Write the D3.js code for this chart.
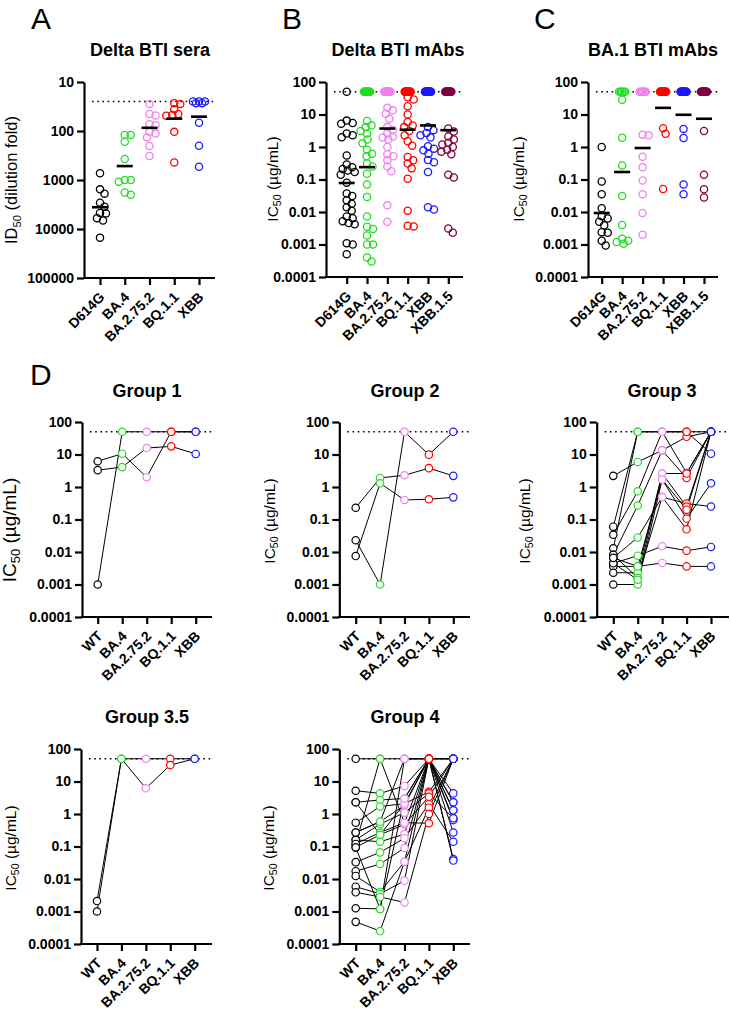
<!DOCTYPE html>
<html><head><meta charset="utf-8">
<script src="https://cdn.jsdelivr.net/npm/d3@7"></script>
<style>body{margin:0;background:#fff;} text{font-family:"Liberation Sans",Arial,Helvetica,sans-serif;}</style>
</head><body><script>
// ---------------- DATA ----------------
const seraVariants = ["D614G","BA.4","BA.2.75.2","BQ.1.1","XBB"];
const mabVariants = ["D614G","BA.4","BA.2.75.2","BQ.1.1","XBB","XBB.1.5"];
const groupVariants = ["WT","BA.4","BA.2.75.2","BQ.1.1","XBB"];
const variantColors = ["#000000","#22dd22","#ee82ee","#ff0000","#1a1aff","#800040"];

const seraTicks = [10,100,1000,10000,100000];
const seraTickLabels = ["10","100","1000","10000","100000"];
const icTicks = [100,10,1,0.1,0.01,0.001,0.0001];
const icTickLabels = ["100","10","1","0.1","0.01","0.001","0.0001"];
const seraLimit = 25;
const mabLimit = 50;

// Panel A: Delta BTI sera, ID50
const seraD614G = [730, 1550, 1900, 2900, 3500, 4700, 4800, 6000, 6700, 15000];
const seraBA4 = [120, 120, 166, 374, 1000, 1000, 1080, 1800, 2000];
const seraBA2752 = [28, 45, 48, 73, 76, 104, 113, 135, 203, 324];
const seraBQ11 = [27, 28, 36, 45, 47, 49, 104, 437];
const seraXBB = [25, 25, 25, 27, 27, 68, 200, 537];
const seraMeans = [3600, 520, 86, 56, 51];

// Panel B: Delta BTI mAbs, IC50
const deltaD614G = [50, 6.5, 5.5, 5.2, 2.6, 2.3, 2.0, 0.55, 0.29, 0.24, 0.21, 0.19, 0.17, 0.14, 0.08, 0.037, 0.031, 0.023, 0.018, 0.014, 0.011, 0.0073, 0.0064, 0.0052, 0.0046, 0.0042, 0.0011, 0.001, 0.0005];
const deltaBA4 = [50,50,50,50,50,50,50,50,50,50, 6.3, 4.6, 4.1, 3.1, 2.6, 1.7, 1.3, 0.82, 0.62, 0.52, 0.31, 0.25, 0.15, 0.07, 0.029, 0.0073, 0.0035, 0.003, 0.0019, 0.001, 0.001, 0.0004, 0.0003];
const deltaBA2752 = [50,50,50,50,50,50,50,50,50,50,50,50, 16, 13.4, 10.6, 7.4, 4.1, 3.3, 2.6, 2.1, 1.95, 1.7, 1.0, 0.6, 0.52, 0.39, 0.25, 0.18, 0.016, 0.005];
const deltaBQ11 = [50,50,50,50,50,50,50,50,50,50,50,50,50,50, 34, 29, 18, 10, 5.9, 4.6, 4.1, 3.1, 2.3, 1.5, 1.1, 0.49, 0.39, 0.31, 0.22, 0.105, 0.011, 0.0038, 0.0036];
const deltaXBB = [50,50,50,50,50,50,50,50,50,50,50,50,50,50,50,50, 4.1, 3.3, 2.7, 2.3, 1.95, 1.05, 0.89, 0.79, 0.62, 0.4, 0.34, 0.17, 0.014, 0.012];
const deltaXBB15 = [50,50,50,50,50,50,50,50,50,50,50,50,50,50,50,50, 3.7, 3.0, 2.1, 1.7, 1.35, 1.2, 1.0, 0.83, 0.71, 0.6, 0.14, 0.115, 0.0031, 0.0023];
const deltaMeans = [0.078, 0.24, 3.7, 3.4, 4.6, 3.3];

// Panel C: BA.1 BTI mAbs, IC50
const ba1D614G = [1.0, 0.087, 0.035, 0.013, 0.0074, 0.0063, 0.005, 0.0039, 0.0024, 0.0023, 0.0013, 0.00093];
const ba1BA4 = [50,50,50,50,50, 28.5, 1.92, 0.27, 0.031, 0.004, 0.0015, 0.0013, 0.0012, 0.00105];
const ba1BA2752 = [50,50,50,50,50,50, 2.4, 2.3, 0.5, 0.24, 0.093, 0.035, 0.0093, 0.002];
const ba1BQ11 = [50,50,50,50,50,50,50,50,50,50,50,50,50,50, 3.8, 2.55, 0.051];
const ba1XBB = [50,50,50,50,50,50,50,50,50,50,50,50,50,50, 3.6, 1.9, 0.07, 0.035];
const ba1XBB15 = [50,50,50,50,50,50,50,50,50,50,50,50,50, 3.1, 0.14, 0.05, 0.028];
const ba1Means = [0.0093, 0.17, 0.93, 16, 9.8, 7.4];

// Panel D: per-mAb IC50 across WT, BA.4, BA.2.75.2, BQ.1.1, XBB
const group1 = [
  [0.001, 50, 50, 50, 50],
  [6.2, 10.6, 2.0, 50, 50],
  [3.3, 4.1, 15.8, 17.8, 10.4]
];
const group2 = [
  [0.023, 0.001, 50, 9.9, 50],
  [0.23, 1.9, 2.3, 3.8, 2.2],
  [0.0075, 1.3, 0.4, 0.42, 0.48]
];
const group3 = [
  [2.2, 5.9, 13.4, 35, 50],
  [0.06, 50, 50, 50, 50],
  [0.034, 0.74, 50, 50, 10.6],
  [0.013, 50, 50, 2.7, 50],
  [0.0082, 0.27, 13.4, 1.9, 50],
  [0.0066, 0.028, 0.49, 0.31, 0.25],
  [0.0045, 0.0077, 0.015, 0.011, 0.0143],
  [0.0036, 0.0036, 0.0046, 0.0036, 0.0036],
  [0.0023, 0.0023, 2.6, 2.6, 50],
  [0.001, 0.001, 1.7, 0.107, 1.3],
  [0.0082, 0.0016, 0.49, 0.05, 50],
  [0.0045, 0.0014, 2.6, 0.25, 50],
  [0.0066, 0.0036, 1.7, 0.2, 50]
];
const group35 = [
  [0.0021, 50, 50, 50, 50],
  [0.001, 50, 6.2, 32, 50]
];
const group4 = [
  [50, 50, 50, 50, 50],
  [5.2, 4.3, 7.3, 50, 4.3],
  [2.3, 2.7, 3.0, 50, 2.3],
  [0.54, 1.7, 2.1, 4.8, 50],
  [0.27, 0.58, 1.85, 50, 1.3],
  [0.16, 0.49, 1.1, 4.3, 0.74],
  [0.12, 0.27, 0.54, 50, 0.65],
  [0.094, 0.23, 0.48, 3.4, 50],
  [0.16, 0.14, 0.24, 50, 0.27],
  [0.033, 0.066, 0.18, 2.0, 0.14],
  [0.0174, 0.029, 0.09, 50, 0.041],
  [0.0124, 0.004, 0.034, 1.56, 50],
  [0.0058, 0.0035, 0.0089, 50, 0.037],
  [0.0039, 0.0028, 0.0019, 1.0, 50],
  [0.00126, 0.0012, 50, 50, 50],
  [0.00048, 0.00025, 0.034, 50, 50],
  [0.12, 50, 0.54, 0.52, 50],
  [0.27, 0.58, 50, 50, 2.3],
  [2.3, 0.23, 2.1, 50, 1.3],
  [0.094, 0.0012, 3.0, 50, 0.74]
];

// ---------------- DRAWING ----------------
const FONT = '"Liberation Sans",Arial,Helvetica,sans-serif';
const svg = d3.select("body").append("svg").attr("width",730).attr("height",1014).style("display","block");

function makePanel(cfg) {
  const g = svg.append("g");
  const y = d3.scaleLog().domain(cfg.domain).range([cfg.top, cfg.bot]);
  const x = d3.scalePoint().domain(cfg.cats).range([cfg.c0, cfg.c1]);
  // dotted limit line
  g.append("line").attr("x1", cfg.x0 + 8).attr("x2", cfg.x1)
    .attr("y1", y(cfg.limit)).attr("y2", y(cfg.limit))
    .attr("stroke","#000").attr("stroke-width",1.6).attr("stroke-dasharray","1.6,3.6");
  // y axis
  const ya = g.append("g").attr("transform",`translate(${cfg.x0},0)`)
    .call(d3.axisLeft(y).tickValues(cfg.ticks).tickFormat((d,i)=>cfg.tickLabels[i]).tickSize(7).tickSizeOuter(0).tickPadding(3));
  ya.select(".domain").attr("stroke","#000").attr("stroke-width",2.2);
  ya.selectAll(".tick line").attr("stroke","#000").attr("stroke-width",2.2);
  ya.selectAll(".tick text").attr("font-size",14).attr("font-weight","bold").attr("font-family",FONT).attr("fill","#000");
  // x axis
  const xa = g.append("g").attr("transform",`translate(0,${cfg.bot})`)
    .call(d3.axisBottom(x).tickSize(7).tickSizeOuter(0));
  xa.select(".domain").remove();
  xa.append("line").attr("x1", cfg.x0 - 1).attr("x2", cfg.x1).attr("y1",0).attr("y2",0).attr("stroke","#000").attr("stroke-width",2.2);
  xa.selectAll(".tick line").attr("stroke","#000").attr("stroke-width",2.2);
  xa.selectAll(".tick text").attr("font-size",14).attr("font-weight","bold").attr("font-family",FONT).attr("fill","#000")
    .attr("x",0).attr("y",0).attr("dy",0).attr("text-anchor","end")
    .attr("transform","translate(5,20) rotate(-45)");
  // title
  g.append("text").attr("x", cfg.tx).attr("y", cfg.ty).attr("text-anchor","middle")
    .attr("font-size",18).attr("font-weight","bold").attr("font-family",FONT).text(cfg.title);
  // y label
  const yl = g.append("text").attr("transform",`translate(${cfg.lx},${cfg.ly}) rotate(-90)`)
    .attr("text-anchor","middle").attr("font-size",cfg.lfs).attr("font-family",FONT);
  yl.append("tspan").text(cfg.lab[0]);
  yl.append("tspan").attr("font-size",cfg.lfs*0.68).attr("dy",cfg.lfs*0.22).text("50");
  yl.append("tspan").attr("dy",-cfg.lfs*0.22).text(cfg.lab[1]);
  return {g, x, y};
}

function swarm(vals, y, cx, limit) {
  const out = [];
  const lim = vals.filter(v => limit !== null && v === limit);
  const n = lim.length;
  const s = Math.min(3, (n - 1) * 0.8);
  lim.forEach((v, i) => out.push({v, x: cx + (n > 1 ? -s + 2 * s * i / (n - 1) : 0), y: y(v)}));
  const rest = vals.filter(v => !(limit !== null && v === limit)).map(v => ({v, y: y(v)})).sort((a, b) => a.y - b.y);
  const placed = [];
  const D = 6, maxOff = 8;
  const cands = [0];
  for (let k = 1; k <= maxOff * 2; k++) cands.push(k / 2, -k / 2);
  rest.forEach(p => {
    let best = 0, bestScore = -1;
    for (const c of cands) {
      let md = Infinity;
      for (const q of placed) md = Math.min(md, Math.hypot(c - q.off, p.y - q.y));
      if (md >= D) { best = c; break; }
      if (md > bestScore) { bestScore = md; best = c; }
    }
    placed.push({off: best, y: p.y});
    out.push({v: p.v, x: cx + best, y: p.y});
  });
  return out;
}

function scatterPanel(cfg, series, means) {
  const {g, x, y} = makePanel(cfg);
  series.forEach((vals, i) => {
    const pts = swarm(vals, y, x(cfg.cats[i]), cfg.clusterLimit);
    g.append("g").selectAll("circle").data(pts).join("circle")
      .attr("cx", d => d.x).attr("cy", d => d.y).attr("r", 3.6)
      .attr("fill","none").attr("stroke", variantColors[i]).attr("stroke-width",1.3);
  });
  g.append("g").selectAll("line").data(means).join("line")
    .attr("x1", (d,i) => x(cfg.cats[i]) - 8).attr("x2", (d,i) => x(cfg.cats[i]) + 8)
    .attr("y1", d => y(d)).attr("y2", d => y(d)).attr("stroke","#000").attr("stroke-width",2.6);
}

function groupPanel(cfg, rows) {
  const {g, x, y} = makePanel(cfg);
  const line = d3.line().x((d,i) => x(cfg.cats[i])).y(d => y(d));
  g.append("g").selectAll("path").data(rows).join("path")
    .attr("d", line).attr("fill","none").attr("stroke","#000").attr("stroke-width",1);
  rows.forEach(r => {
    g.append("g").selectAll("circle").data(r).join("circle")
      .attr("cx", (d,i) => x(cfg.cats[i])).attr("cy", d => y(d)).attr("r", 3.7)
      .attr("fill","#fff").attr("stroke", (d,i) => variantColors[i]).attr("stroke-width",1.2);
  });
}

const icLab = ["IC", " (µg/mL)"];
// Panel A
scatterPanel({x0:84, x1:215, top:82, bot:278, c0:100, c1:199, cats:seraVariants, domain:[10,100000],
  ticks:seraTicks, tickLabels:seraTickLabels, limit:seraLimit, clusterLimit:null,
  title:"Delta BTI sera", tx:150, ty:56, lx:17, ly:180, lfs:16.5, lab:["ID"," (dilution fold)"]},
  [seraD614G, seraBA4, seraBA2752, seraBQ11, seraXBB], seraMeans);
// Panel B
scatterPanel({x0:326, x1:463, top:82, bot:277, c0:346.7, c1:448.3, cats:mabVariants, domain:[100,0.0001],
  ticks:icTicks, tickLabels:icTickLabels, limit:mabLimit, clusterLimit:mabLimit,
  title:"Delta BTI mAbs", tx:398, ty:56, lx:278, ly:179, lfs:15.5, lab:icLab},
  [deltaD614G, deltaBA4, deltaBA2752, deltaBQ11, deltaXBB, deltaXBB15], deltaMeans);
// Panel C
scatterPanel({x0:588, x1:718, top:82, bot:277, c0:601.7, c1:704, cats:mabVariants, domain:[100,0.0001],
  ticks:icTicks, tickLabels:icTickLabels, limit:mabLimit, clusterLimit:mabLimit,
  title:"BA.1 BTI mAbs", tx:653, ty:56, lx:524, ly:179, lfs:15.5, lab:icLab},
  [ba1D614G, ba1BA4, ba1BA2752, ba1BQ11, ba1XBB, ba1XBB15], ba1Means);
// Panel D groups
groupPanel({x0:82, x1:212, top:422, bot:617, c0:97.7, c1:195.7, cats:groupVariants, domain:[100,0.0001],
  ticks:icTicks, tickLabels:icTickLabels, limit:mabLimit, title:"Group 1", tx:147, ty:397,
  lx:16, ly:530, lfs:19, lab:icLab}, group1);
groupPanel({x0:339.3, x1:470, top:422, bot:617, c0:355.7, c1:453.3, cats:groupVariants, domain:[100,0.0001],
  ticks:icTicks, tickLabels:icTickLabels, limit:mabLimit, title:"Group 2", tx:405, ty:397,
  lx:275, ly:521, lfs:15.5, lab:icLab}, group2);
groupPanel({x0:596.7, x1:729, top:422, bot:617, c0:613.3, c1:711, cats:groupVariants, domain:[100,0.0001],
  ticks:icTicks, tickLabels:icTickLabels, limit:mabLimit, title:"Group 3", tx:662, ty:397,
  lx:530, ly:521, lfs:15.5, lab:icLab}, group3);
groupPanel({x0:81, x1:212, top:749, bot:944, c0:97, c1:194.7, cats:groupVariants, domain:[100,0.0001],
  ticks:icTicks, tickLabels:icTickLabels, limit:mabLimit, title:"Group 3.5", tx:147, ty:723,
  lx:16, ly:848, lfs:15.5, lab:icLab}, group35);
groupPanel({x0:339.3, x1:470, top:749, bot:944, c0:355.7, c1:453.3, cats:groupVariants, domain:[100,0.0001],
  ticks:icTicks, tickLabels:icTickLabels, limit:mabLimit, title:"Group 4", tx:405, ty:723,
  lx:274, ly:848, lfs:15.5, lab:icLab}, group4);

// Panel letters
[["A",31,29],["B",282,29],["C",534,29],["D",30,385]].forEach(([t,x,y]) => {
  svg.append("text").attr("x",x).attr("y",y).attr("font-size",30).attr("font-family",FONT).text(t);
});
</script></body></html>
